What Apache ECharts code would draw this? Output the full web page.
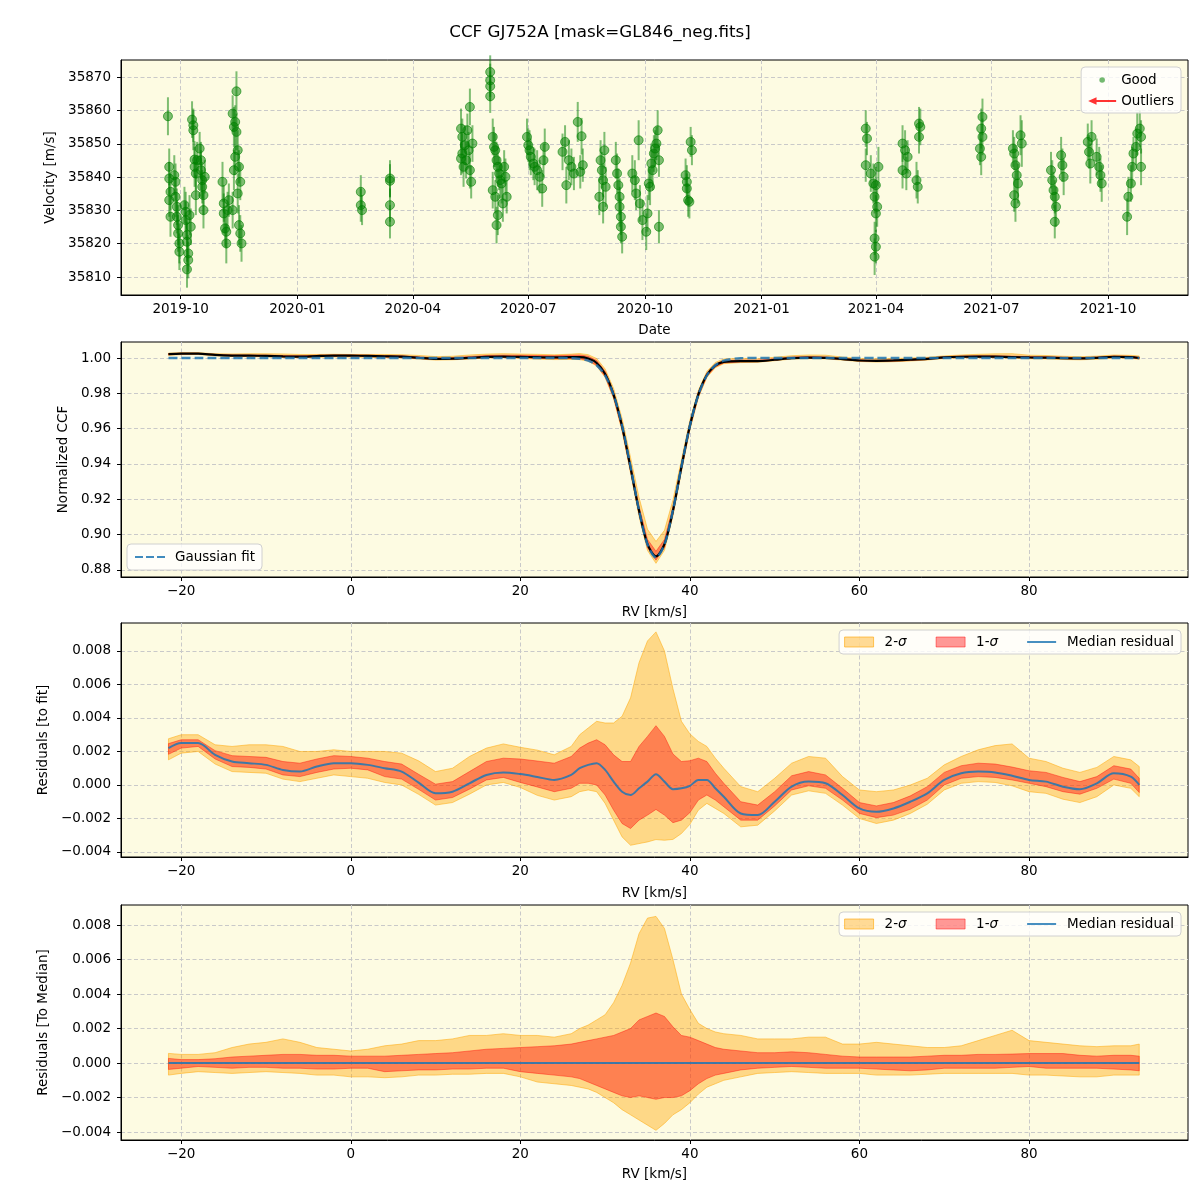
<!DOCTYPE html>
<html>
<head>
<meta charset="utf-8">
<script src="https://cdn.jsdelivr.net/npm/echarts@6/dist/echarts.min.js"></script>
<style>
html, body { margin: 0; padding: 0; background: #fff; }
#chart { width: 1200px; height: 1200px; }
</style>
</head>
<body>
<div id="chart"></div>
<script>
// ---- top panel: RV time series (good points) ----
const goodDates = [
  '2019-09-21','2019-09-22','2019-09-22','2019-09-23','2019-09-22','2019-09-23',
  '2019-09-26','2019-09-27','2019-09-27','2019-09-28','2019-09-28','2019-09-29','2019-09-29','2019-09-30','2019-09-30',
  '2019-10-04','2019-10-05','2019-10-05','2019-10-06','2019-10-06','2019-10-07','2019-10-07','2019-10-06','2019-10-08','2019-10-09',
  '2019-10-10','2019-10-11','2019-10-11','2019-10-12','2019-10-12','2019-10-13','2019-10-13','2019-10-14',
  '2019-10-16','2019-10-17','2019-10-17','2019-10-18','2019-10-18','2019-10-19','2019-10-19','2019-10-20',
  '2019-11-03','2019-11-04','2019-11-04','2019-11-05','2019-11-06','2019-11-06','2019-11-07','2019-11-08',
  '2019-11-14','2019-11-11','2019-11-12','2019-11-13','2019-11-14','2019-11-15','2019-11-13','2019-11-16','2019-11-12','2019-11-17','2019-11-15','2019-11-11','2019-11-16','2019-11-17','2019-11-18',
  '2020-02-20','2020-02-20','2020-02-21',
  '2020-03-14','2020-03-14','2020-03-14','2020-03-14',
  '2020-05-16','2020-05-09','2020-05-14','2020-05-10','2020-05-12','2020-05-15','2020-05-09','2020-05-13','2020-05-11','2020-05-16','2020-05-17','2020-05-18','2020-05-10',
  '2020-06-01','2020-06-01','2020-06-01','2020-06-01',
  '2020-06-03','2020-06-04','2020-06-05','2020-06-06','2020-06-07','2020-06-08','2020-06-09','2020-06-10','2020-06-03','2020-06-05','2020-06-11','2020-06-07','2020-06-06','2020-06-12','2020-06-13','2020-06-14',
  '2020-06-30','2020-07-01','2020-07-02','2020-07-03','2020-07-05','2020-07-06','2020-07-08','2020-07-10','2020-07-12','2020-07-13','2020-07-14',
  '2020-08-09','2020-08-12','2020-07-30','2020-07-28','2020-08-02','2020-08-04','2020-08-06','2020-07-31','2020-08-13','2020-08-11',
  '2020-08-30','2020-08-27','2020-08-28','2020-08-29','2020-08-31','2020-08-26','2020-08-29','2020-09-08','2020-09-09','2020-09-10','2020-09-11','2020-09-11','2020-09-12','2020-09-12','2020-09-13',
  '2020-09-26','2020-09-21','2020-09-23','2020-09-24','2020-09-27','2020-09-29','2020-10-02','2020-10-04','2020-10-06','2020-10-08','2020-10-10','2020-10-11','2020-10-09','2020-10-12','2020-10-07','2020-10-03','2020-10-12','2020-10-05',
  '2020-11-06','2020-11-07','2020-11-02','2020-11-03','2020-11-03','2020-11-04','2020-11-05',
  '2021-03-24','2021-03-25','2021-03-24',
  '2021-03-28','2021-03-30','2021-04-01','2021-03-31','2021-04-02','2021-04-01','2021-03-31','2021-04-01','2021-03-31','2021-04-03',
  '2021-05-05','2021-05-06','2021-05-05','2021-04-22','2021-04-24','2021-04-26','2021-04-22','2021-04-25','2021-05-03','2021-05-04',
  '2021-06-24','2021-06-23','2021-06-24','2021-06-22','2021-06-23',
  '2021-07-24','2021-07-25','2021-07-18','2021-07-19','2021-07-20','2021-07-21','2021-07-22','2021-07-19','2021-07-20',
  '2021-08-17','2021-08-18','2021-08-19','2021-08-20','2021-08-21','2021-08-20','2021-08-25','2021-08-26','2021-08-27',
  '2021-09-15','2021-09-16','2021-09-17','2021-09-18','2021-09-22','2021-09-24','2021-09-25','2021-09-26',
  '2021-10-16','2021-10-17','2021-10-19','2021-10-20','2021-10-21','2021-10-23','2021-10-24','2021-10-26','2021-10-27','2021-10-27'
];
const goodVel = [
  35858.3,35843.1,35839.6,35835.6,35833.1,35828.1,
  35840.6,35838.6,35834.1,35831.1,35828.1,35825.6,35823.1,35820.1,35817.6,
  35831.6,35829.6,35827.1,35822.6,35820.6,35817.1,35815.1,35812.3,35828.6,35825.1,
  35857.3,35855.6,35854.1,35845.3,35843.1,35841.1,35834.6,35845.1,
  35848.6,35845.1,35842.1,35839.1,35837.1,35834.6,35830.1,35840.1,
  35838.6,35832.1,35829.1,35824.6,35823.6,35820.1,35830.1,35833.1,
  35865.8,35859.1,35855.1,35856.6,35853.6,35848.1,35846.1,35843.1,35842.1,35838.6,35835.1,35830.1,35825.6,35823.1,35820.1,
  35835.6,35831.6,35830.1,
  35839.6,35838.9,35831.6,35826.6,
  35861.1,35854.6,35854.1,35852.1,35849.6,35848.1,35845.6,35845.1,35843.1,35842.1,35838.6,35850.1,35847.1,
  35871.6,35869.1,35867.3,35864.3,
  35852.1,35849.1,35848.1,35845.1,35843.1,35841.1,35839.1,35838.1,35836.1,35834.1,35832.1,35828.6,35825.6,35843.1,35840.1,35834.1,
  35852.1,35849.6,35848.1,35846.1,35844.1,35843.1,35842.1,35840.1,35836.6,35845.1,35849.1,
  35856.6,35852.3,35850.6,35847.6,35845.1,35843.1,35841.1,35837.6,35843.6,35841.6,
  35848.1,35845.1,35842.1,35839.1,35837.1,35834.1,35831.1,35845.1,35841.1,35837.6,35834.1,35831.1,35828.1,35825.1,35822.1,
  35851.1,35841.1,35839.1,35835.1,35832.1,35827.1,35823.6,35838.1,35844.1,35847.1,35850.1,35854.1,35848.6,35845.1,35842.1,35829.1,35825.1,35837.1,
  35850.6,35848.1,35840.6,35838.6,35836.6,35833.1,35832.6,
  35854.6,35851.6,35843.6,
  35841.1,35838.1,35837.6,35834.1,35831.1,35829.1,35821.6,35819.1,35816.1,35843.1,
  35856.1,35855.1,35852.1,35850.1,35848.1,35846.1,35842.1,35841.1,35839.1,35837.1,
  35858.1,35854.6,35852.1,35848.6,35846.1,
  35852.6,35850.1,35848.6,35847.1,35843.6,35840.6,35838.1,35834.6,35832.1,
  35842.1,35839.1,35836.1,35834.1,35831.1,35826.6,35846.6,35843.6,35840.1,
  35850.6,35847.6,35844.1,35852.1,35846.1,35843.1,35840.6,35838.1,
  35828.1,35834.1,35838.1,35843.1,35847.1,35849.1,35853.1,35854.6,35852.1,35843.1
];
const goodErr = [
  5.7,5.5,5.0,5.5,5.0,6.0,
  6.0,5.5,6.0,5.5,5.0,6.0,5.5,6.0,5.5,
  5.5,6.0,5.5,5.0,6.0,5.5,5.5,5.5,6.0,5.5,
  5.5,5.0,6.0,5.5,6.0,5.0,6.0,5.5,
  5.0,5.5,6.0,5.5,5.0,6.0,5.5,5.0,
  6.0,5.5,6.0,5.5,5.0,6.0,5.5,5.0,
  6.0,5.5,6.0,5.0,5.5,6.0,5.5,5.0,6.0,5.5,6.0,5.5,6.0,5.5,5.5,
  5.0,5.0,4.5,
  5.5,5.0,5.0,5.0,
  5.5,6.0,5.0,5.5,6.0,5.5,5.0,5.5,6.0,5.5,5.0,5.5,6.0,
  5.0,5.0,4.5,5.0,
  5.5,6.0,5.0,5.5,6.0,5.0,5.5,6.0,5.5,5.0,5.5,6.0,5.5,5.0,5.5,5.0,
  5.5,5.0,6.0,5.5,5.0,5.5,6.0,5.0,5.5,5.0,5.5,
  6.0,5.5,5.0,5.5,6.0,5.5,5.0,5.5,5.0,5.0,
  5.5,6.0,5.5,5.0,6.0,5.5,5.0,5.5,6.0,5.0,5.5,6.0,5.5,5.0,5.0,
  6.0,5.5,6.0,5.0,5.5,6.0,5.5,5.0,6.0,5.5,5.0,6.0,5.5,5.0,6.0,5.5,5.0,5.5,
  4.5,4.5,5.0,5.0,4.5,5.0,5.0,
  5.5,5.0,5.0,
  5.5,6.0,5.5,5.0,6.0,5.5,5.0,5.0,5.5,6.0,
  5.0,5.5,5.0,5.5,6.0,5.0,5.5,5.0,5.5,5.0,
  5.5,6.0,5.5,5.0,5.5,
  6.0,7.0,5.5,5.0,6.0,5.5,6.0,5.0,5.5,
  5.5,6.0,5.5,5.0,6.0,5.0,5.5,5.0,5.5,
  5.5,5.0,6.0,5.0,5.5,6.0,5.0,5.5,
  5.5,6.0,5.5,6.0,5.0,5.5,6.5,5.5,5.0,5.5
];
const dateTicks = ['2019-10-01','2020-01-01','2020-04-01','2020-07-01','2020-10-01','2021-01-01','2021-04-01','2021-07-01','2021-10-01'];
const dateRange = ['2019-08-15', '2021-12-03'];
const velTicks = [35810, 35820, 35830, 35840, 35850, 35860, 35870];

// ---- CCF profile and residuals, on a shared RV grid (km/s) ----
const rvGrid = [-21.5,-20,-18,-16,-14,-12,-10,-8,-6,-4,-2,0,2,4,6,8,10,12,14,16,18,20,22,24,
  26,27,28,29,30,31,32,33,34,35,36,37,38,39,40,41,42,43,44,
  46,48,50,52,54,56,58,60,62,64,66,68,70,72,74,76,78,80,82,84,86,88,90,92,93];
const fitCcf = [1,1,1,1,1,1,1,1,1,1,1,1,1,1,1,1,1,1,1,1,1,1,1,1,
  0.9999,0.9995,0.9985,0.9959,0.9901,0.9791,0.9617,0.9385,0.9138,0.8944,0.8870,0.8944,0.9138,0.9385,0.9617,0.9791,0.9901,0.9959,0.9985,
  0.9999,1,1,1,1,1,1,1,1,1,1,1,1,1,1,1,1,1,1,1,1,1,1,1,1];
const medResid = [0.0022,0.0025,0.0025,0.0018,0.0014,0.0013,0.0012,0.0009,0.0008,0.0011,0.0013,0.0013,0.0012,0.0010,0.0008,0.00014,-0.0005,-0.0004,0.0001,0.0006,0.00075,0.00065,0.00048,0.0003,
  0.0006,0.0010,0.0012,0.0013,0.0009,0.0002,-0.0004,-0.0006,-0.0002,0.0002,0.00064,0.0002,-0.00025,-0.0002,-0.00005,0.0003,0.0003,-0.0002,-0.0007,
  -0.0017,-0.0018,-0.0010,-0.0001,0.0002,0.0001,-0.0006,-0.0014,-0.0016,-0.0014,-0.0010,-0.0005,0.0003,0.0007,0.0008,0.00075,0.00055,0.0003,0.0002,-0.0001,-0.00025,0.0001,0.0007,0.0005,0.0];
// spread of the individual CCFs around the median (percentile offsets)
const q2hi = [0.00056,0.0005,0.0005,0.0006,0.0009,0.0011,0.0012,0.0014,0.0012,0.0009,0.0008,0.0007,0.0008,0.0010,0.0011,0.0013,0.0013,0.0014,0.0016,0.0016,0.0017,0.0016,0.0016,0.0015,
  0.0017,0.0020,0.0022,0.0025,0.0028,0.0035,0.0045,0.0058,0.0075,0.0084,0.0085,0.0078,0.0060,0.0040,0.0031,0.0023,0.0020,0.0018,0.0017,
  0.0016,0.0014,0.0014,0.0014,0.0015,0.0015,0.0011,0.0011,0.0012,0.0011,0.0010,0.0009,0.0009,0.0010,0.0013,0.0016,0.0019,0.0013,0.0012,0.0011,0.0010,0.00095,0.0010,0.0010,0.0011];
const q1hi = [0.00027,0.0002,0.0002,0.00025,0.00035,0.0004,0.00045,0.0005,0.0005,0.00045,0.00045,0.0004,0.0004,0.0004,0.00045,0.0005,0.00055,0.0006,0.0007,0.0008,0.00085,0.0009,0.00095,0.0010,
  0.0011,0.0012,0.0013,0.0014,0.0015,0.0016,0.0018,0.0020,0.0025,0.0027,0.0029,0.0027,0.0021,0.0016,0.0015,0.0013,0.0011,0.0009,0.0008,
  0.0007,0.0006,0.0006,0.00065,0.0006,0.0005,0.0004,0.00035,0.00035,0.00035,0.00035,0.0004,0.00045,0.00045,0.0005,0.0005,0.00052,0.00055,0.00055,0.00055,0.00045,0.0004,0.00045,0.00045,0.0004];
const q1lo = [-0.00037,-0.0003,-0.0002,-0.00025,-0.0003,-0.00025,-0.00025,-0.0003,-0.0003,-0.00035,-0.00035,-0.0003,-0.0003,-0.0005,-0.00045,-0.0004,-0.0004,-0.00035,-0.00035,-0.0003,-0.0003,-0.0005,-0.0006,-0.0007,
  -0.0008,-0.0009,-0.0011,-0.0013,-0.0015,-0.0017,-0.0019,-0.0020,-0.0019,-0.0020,-0.0021,-0.0020,-0.0020,-0.0019,-0.0016,-0.0012,-0.0009,-0.0007,-0.0006,
  -0.0004,-0.0003,-0.00025,-0.0002,-0.00025,-0.0003,-0.0003,-0.0003,-0.00035,-0.0004,-0.00045,-0.0004,-0.0003,-0.0003,-0.0003,-0.0003,-0.00025,-0.0002,-0.0003,-0.0003,-0.0003,-0.0003,-0.00035,-0.0004,-0.00045];
const q2lo = [-0.0007,-0.0006,-0.0005,-0.00055,-0.0006,-0.00055,-0.0005,-0.00055,-0.0006,-0.0007,-0.0007,-0.0008,-0.0008,-0.00085,-0.0008,-0.0007,-0.0007,-0.00065,-0.00065,-0.0006,-0.0006,-0.0008,-0.0011,-0.0012,
  -0.0013,-0.0014,-0.0015,-0.0017,-0.0020,-0.0023,-0.0027,-0.0030,-0.0033,-0.0036,-0.0039,-0.0035,-0.0030,-0.0027,-0.0023,-0.0018,-0.0014,-0.0012,-0.0010,
  -0.0008,-0.0006,-0.00055,-0.0005,-0.00055,-0.0006,-0.0006,-0.0006,-0.0007,-0.0007,-0.0007,-0.00065,-0.0006,-0.0006,-0.0006,-0.0006,-0.0006,-0.0007,-0.0007,-0.00075,-0.0008,-0.0008,-0.0007,-0.0007,-0.0007];
const rvTicks = [-20, 0, 20, 40, 60, 80];
const ccfTicks = [0.88, 0.90, 0.92, 0.94, 0.96, 0.98, 1.00];
const residTicks = [-0.004, -0.002, 0, 0.002, 0.004, 0.006, 0.008];

// derived curves
const ccfMedian = fitCcf.map((f, i) => f + medResid[i]);
const zeroLine = rvGrid.map(() => 0);
const addTo = (base, off) => base.map((b, i) => b + off[i]);
const toTime = d => +echarts.time.parse(d);

const FONT = 'DejaVu Sans';
const FS = 13.5;
const BG = '#fdfbe2';
const ORANGE_FILL = 'rgba(255,165,0,0.4)';
const RED_FILL = 'rgba(255,0,0,0.4)';
const BLUE = 'rgba(31,119,180,0.85)';
const minus = s => String(s).replace('-', '\u2212');

const chart = echarts.init(document.getElementById('chart'));

function gridBox(top, height) {
  return { left: 121, top: top, width: 1067, height: height, show: true,
    backgroundColor: BG, borderColor: '#000', borderWidth: 1 };
}

function splitStyle() {
  return { show: true, lineStyle: { color: '#c9c9c9', width: 1, type: [4, 2.5] } };
}

function valueAxis(gridIndex, min, max, ticks, fmt, name, gap, margin) {
  return {
    type: 'value', gridIndex: gridIndex, min: min, max: max, scale: true,
    name: name, nameLocation: 'middle', nameGap: gap,
    nameTextStyle: { fontFamily: FONT, fontSize: FS, color: '#000' },
    axisLine: { show: true, onZero: false, lineStyle: { color: '#000', width: 1 } },
    axisTick: { show: true, customValues: ticks, length: 4, lineStyle: { color: '#000' } },
    axisLabel: { customValues: ticks, formatter: fmt, fontFamily: FONT, fontSize: FS, color: '#000', margin: margin },
    splitLine: splitStyle()
  };
}

function bandSeries(name, idx, lo, hi, fill, stroke) {
  return {
    type: 'custom', name: name, xAxisIndex: idx, yAxisIndex: idx,
    silent: true, clip: true,
    data: [[rvGrid[0], lo[0]]],
    renderItem: function (params, api) {
      const pts = [];
      for (let i = 0; i < rvGrid.length; i++) pts.push(api.coord([rvGrid[i], hi[i]]));
      for (let i = rvGrid.length - 1; i >= 0; i--) pts.push(api.coord([rvGrid[i], lo[i]]));
      return { type: 'polygon', shape: { points: pts }, style: { fill: fill, stroke: stroke, lineWidth: 1 } };
    }
  };
}

function lineSeries(name, idx, ys, color, width, dash) {
  return {
    type: 'line', name: name, xAxisIndex: idx, yAxisIndex: idx,
    data: rvGrid.map((x, i) => [x, ys[i]]),
    showSymbol: false, symbol: 'none', smooth: 0.3, silent: true,
    lineStyle: { color: color, width: width, type: dash || 'solid' },
    itemStyle: { color: color }
  };
}

const rvFmt = v => minus(v);
const residFmt = v => minus(v.toFixed(3));
const bandLegendText = {
  fontFamily: FONT, fontSize: FS, color: '#000', padding: [0, 0, 0, 6],
  rich: { s: { fontFamily: FONT, fontSize: FS, fontStyle: 'italic', color: '#000' } }
};
const sigmaFmt = n => n === 'Median residual' ? n : n.replace('\u03c3', '{s|\u03c3}');

function bandLegend(top) {
  return {
    right: 19, top: top, orient: 'horizontal', selectedMode: false,
    itemWidth: 29, itemHeight: 10, itemGap: 29,
    padding: [5, 7, 5, 5],
    backgroundColor: 'rgba(255,255,255,0.8)', borderColor: '#d0d0d0', borderWidth: 1, borderRadius: 4,
    textStyle: bandLegendText, formatter: sigmaFmt,
    data: [
      { name: '2-\u03c3', icon: 'rect', itemStyle: { color: ORANGE_FILL, borderColor: 'rgba(255,165,0,0.6)', borderWidth: 1 } },
      { name: '1-\u03c3', icon: 'rect', itemStyle: { color: RED_FILL, borderColor: 'rgba(255,0,0,0.45)', borderWidth: 1 } },
      { name: 'Median residual', icon: 'path://M0,0h30v2h-30z', itemStyle: { color: BLUE } }
    ]
  };
}

const option = {
  animation: false,
  textStyle: { fontFamily: FONT },
  title: {
    text: 'CCF GJ752A [mask=GL846_neg.fits]', left: 'center', top: 19,
    textStyle: { fontFamily: FONT, fontSize: 16.7, fontWeight: 'normal', color: '#000' }
  },
  grid: [gridBox(60, 235), gridBox(342, 235), gridBox(623, 234), gridBox(905, 235)],
  xAxis: [
    valueAxis(0, toTime(dateRange[0]), toTime(dateRange[1]), dateTicks.map(toTime),
      v => echarts.time.format(v, '{yyyy}-{MM}', false), 'Date', 28, 7),
    valueAxis(1, -27.1, 98.75, rvTicks, rvFmt, 'RV [km/s]', 28, 7),
    valueAxis(2, -27.1, 98.75, rvTicks, rvFmt, 'RV [km/s]', 29, 7),
    valueAxis(3, -27.1, 98.75, rvTicks, rvFmt, 'RV [km/s]', 27, 7)
  ],
  yAxis: [
    valueAxis(0, 35804.6, 35875.2, velTicks, v => String(v), 'Velocity [m/s]', 59, 10),
    valueAxis(1, 0.876, 1.00906, ccfTicks, v => v.toFixed(2), 'Normalized CCF', 46, 10),
    valueAxis(2, -0.0043, 0.00967, residTicks, residFmt, 'Residuals [to fit]', 65, 10),
    valueAxis(3, -0.00446, 0.00916, residTicks, residFmt, 'Residuals [To Median]', 65, 10)
  ],
  legend: [
    {
      right: 19, top: 67, orient: 'vertical', selectedMode: false,
      itemWidth: 28, itemHeight: 8, itemGap: 7, padding: [6, 7, 5, 7],
      backgroundColor: 'rgba(255,255,255,0.8)', borderColor: '#d0d0d0', borderWidth: 1, borderRadius: 4,
      textStyle: { fontFamily: FONT, fontSize: FS, color: '#000' },
      data: [
        { name: 'Good', icon: 'path://M0,0M30,8M12,4a3,3 0 1,0 6,0a3,3 0 1,0 -6,0z', itemStyle: { color: 'rgba(0,128,0,0.55)', borderWidth: 0 } },
        { name: 'Outliers', icon: 'path://M0,4L9,0L9,3L30,3L30,5L9,5L9,8Z', itemStyle: { color: '#f00' } }
      ]
    },
    {
      left: 127, top: 544, orient: 'vertical', selectedMode: false,
      itemWidth: 30, itemHeight: 10, padding: [6, 7, 6, 8],
      backgroundColor: 'rgba(255,255,255,0.8)', borderColor: '#d0d0d0', borderWidth: 1, borderRadius: 4,
      textStyle: { fontFamily: FONT, fontSize: FS, color: '#000', padding: [0, 0, 0, 5] },
      data: [
        { name: 'Gaussian fit', icon: 'path://M0,0h8v2h-8z M11,0h8v2h-8z M22,0h8v2h-8z', itemStyle: { color: BLUE } }
      ]
    },
    bandLegend(630),
    bandLegend(912)
  ],
  series: [
    // panel 1: error bars + points
    {
      type: 'custom', name: 'errbars', xAxisIndex: 0, yAxisIndex: 0, silent: true,
      encode: { x: 0, y: 1 },
      data: goodDates.map((d, i) => [toTime(d), goodVel[i], goodErr[i]]),
      renderItem: function (params, api) {
        const t = api.value(0), v = api.value(1), e = api.value(2);
        const a = api.coord([t, v - e]);
        const b = api.coord([t, v + e]);
        return { type: 'line', shape: { x1: a[0], y1: a[1], x2: b[0], y2: b[1] },
          style: { stroke: 'rgba(0,128,0,0.5)', lineWidth: 2 } };
      }
    },
    {
      type: 'scatter', name: 'Good', xAxisIndex: 0, yAxisIndex: 0, silent: true,
      symbol: 'circle', symbolSize: 9,
      data: goodDates.map((d, i) => [toTime(d), goodVel[i]]),
      itemStyle: { color: 'rgba(0,128,0,0.5)', borderColor: 'rgba(0,128,0,0.6)', borderWidth: 1, opacity: 1 }
    },
    {
      type: 'scatter', name: 'Outliers', xAxisIndex: 0, yAxisIndex: 0,
      data: [], itemStyle: { color: '#f00' }
    },
    // panel 2: CCF
    bandSeries('ccf 2-sigma', 1, addTo(ccfMedian, q2lo), addTo(ccfMedian, q2hi), ORANGE_FILL, 'rgba(255,165,0,0.5)'),
    bandSeries('ccf 1-sigma', 1, addTo(ccfMedian, q1lo), addTo(ccfMedian, q1hi), RED_FILL, 'rgba(255,0,0,0.4)'),
    lineSeries('Median CCF', 1, ccfMedian, '#000', 2.2),
    lineSeries('Gaussian fit', 1, fitCcf, BLUE, 2.4, [9, 4]),
    // panel 3: residuals to the fit
    bandSeries('2-\u03c3', 2, addTo(medResid, q2lo), addTo(medResid, q2hi), ORANGE_FILL, 'rgba(255,165,0,0.5)'),
    bandSeries('1-\u03c3', 2, addTo(medResid, q1lo), addTo(medResid, q1hi), RED_FILL, 'rgba(255,0,0,0.4)'),
    lineSeries('Median residual', 2, medResid, BLUE, 2),
    // panel 4: residuals to the median
    bandSeries('2-\u03c3', 3, q2lo, q2hi, ORANGE_FILL, 'rgba(255,165,0,0.5)'),
    bandSeries('1-\u03c3', 3, q1lo, q1hi, RED_FILL, 'rgba(255,0,0,0.4)'),
    lineSeries('Median residual', 3, zeroLine, BLUE, 2)
  ]
};

chart.setOption(option);
</script>
</body>
</html>
